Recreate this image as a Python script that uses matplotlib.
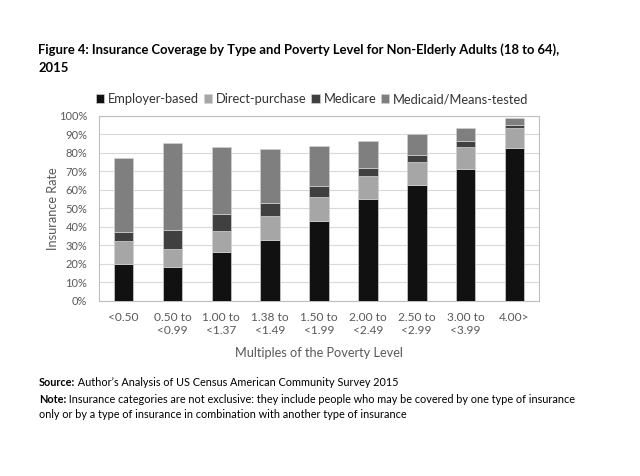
import numpy as np
from matplotlib import pyplot as plt

plt.rcParams['font.family'] = ['Lato', 'DejaVu Sans']

categories = ["<0.50", "0.50 to\n<0.99", "1.00 to\n<1.37", "1.38 to\n<1.49", "1.50 to\n<1.99",
              "2.00 to\n<2.49", "2.50 to\n<2.99", "3.00 to\n<3.99", "4.00>"]
employer = [20.0, 18.4, 26.3, 32.8, 43.1, 54.8, 62.4, 71.2, 82.4]
direct = [12.3, 9.4, 11.4, 13.0, 13.0, 12.6, 12.4, 11.9, 11.1]
medicare = [5.0, 10.4, 9.0, 7.2, 5.9, 4.5, 3.8, 3.1, 1.5]
medicaid = [40.0, 47.2, 36.2, 29.2, 21.5, 14.6, 11.3, 7.3, 3.9]

series = [("Employer-based", employer, "#111111"),
          ("Direct-purchase", direct, "#a6a6a6"),
          ("Medicare", medicare, "#404040"),
          ("Medicaid/Means-tested", medicaid, "#7f7f7f")]

fig = plt.figure(figsize=(6.4, 4.76), dpi=100)
ax = fig.add_axes([0.155, 0.368, 0.687, 0.389])

x = np.arange(len(categories))
bottom = np.zeros(len(categories))
for name, vals, col in series:
    ax.bar(x, vals, 0.4, bottom=bottom, color=col, label=name,
           edgecolor="#d0d0d0", linewidth=0.5, zorder=3)
    bottom += np.array(vals)

ax.set_xlim(-0.5, len(categories) - 0.5)
ax.set_ylim(0, 100)
ax.set_yticks(np.arange(0, 101, 10))
ax.set_yticklabels([f"{v}%" for v in range(0, 101, 10)], fontsize=8, color="#595959")
ax.set_xticks(x)
ax.set_xticklabels(categories, fontsize=8.6, color="#595959", linespacing=1.2)
ax.tick_params(length=0)
ax.tick_params(axis="x", pad=8)
ax.tick_params(axis="y", pad=8.5)
ax.grid(axis="y", color="#d9d9d9", linewidth=0.8, zorder=0)
for s in ax.spines.values():
    s.set_color("#bfbfbf")
    s.set_linewidth(0.8)

ax.set_ylabel("Insurance Rate", fontsize=9.2, color="#595959", labelpad=0)
ax.set_xlabel("Multiples of the Poverty Level", fontsize=9.2, color="#595959", labelpad=8)

fig.legend(loc="center left", bbox_to_anchor=(0.14, 0.792), ncol=4, frameon=False,
           borderpad=0, fontsize=9.3, handlelength=0.65, handleheight=0.65, handletextpad=0.3,
           columnspacing=0.35, labelcolor="#333333")

t1 = fig.text(0.06, 0.895, "Figure 4: Insurance Coverage by Type and Poverty Level for Non-Elderly Adults (18 to 64),",
              fontsize=10, fontweight="bold", va="center")
t2 = fig.text(0.06, 0.857, "2015", fontsize=10, fontweight="bold", va="center")

# fit title width to the reference (about 522 px)
r = fig.canvas.get_renderer()
w = t1.get_window_extent(r).width
fs = 10 * 522 / w
t1.set_fontsize(fs)
t2.set_fontsize(fs)

src = fig.text(0.061, 0.185, "Source:", fontsize=7.8, fontweight="bold", va="bottom")
ax.annotate(" Author\u2019s Analysis of US Census American Community Survey 2015",
            xy=(1, 0), xycoords=src, fontsize=7.8, va="bottom", annotation_clip=False)
note = fig.text(0.061, 0.150, "Note:", fontsize=7.8, fontweight="bold", va="bottom")
ax.annotate(" Insurance categories are not exclusive: they include people who may be covered by one type of insurance",
            xy=(1, 0), xycoords=note, fontsize=7.8, va="bottom", annotation_clip=False)
fig.text(0.061, 0.118, "only or by a type of insurance in combination with another type of insurance",
         fontsize=7.8, va="bottom")

fig.savefig("out.png", dpi=100)
